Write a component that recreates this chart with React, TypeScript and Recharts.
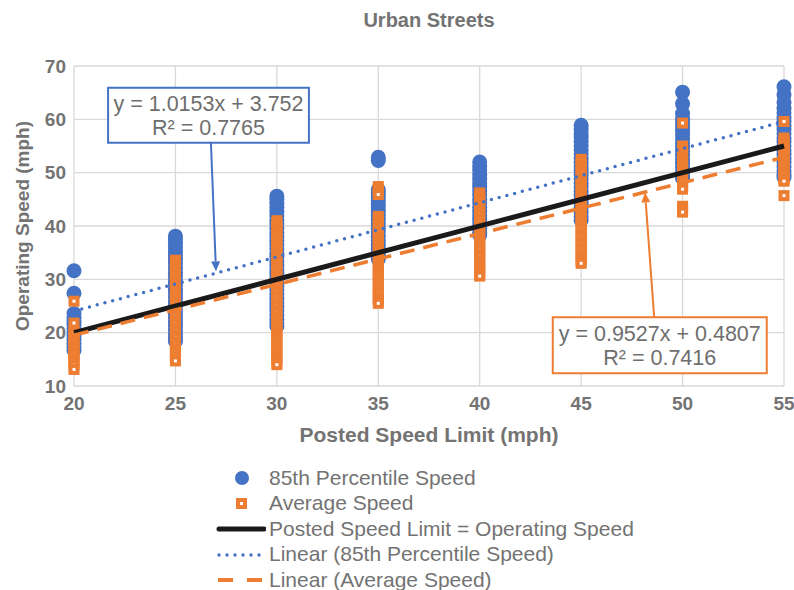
import {
  CartesianGrid,
  ReferenceArea,
  ReferenceLine,
  Scatter,
  ScatterChart,
  XAxis,
  YAxis,
} from "recharts";

const speedLimits = [20, 25, 30, 35, 40, 45, 50, 55];
const xTicks = [20, 25, 30, 35, 40, 45, 50, 55];
const yTicks = [10, 20, 30, 40, 50, 60, 70];

// 85th percentile speeds per posted limit
const p85At20 = [31.6, 27.4, 23.6, 22.9, 22.2, 21.5, 20.8, 20.1, 19.4, 18.7, 18.0, 17.3, 16.7];
const p85At25 = [38.1, 37.4, 36.7, 36.0, 35.2, 34.4, 33.7, 32.9, 32.1, 31.3, 30.6, 29.8, 29.0, 28.2, 27.5, 26.7, 25.9, 25.1, 24.4, 23.6, 22.8, 22.0, 21.3, 20.5, 19.7, 18.9, 18.4];
const p85At30 = [45.6, 45.0, 44.2, 43.5, 42.7, 41.9, 41.1, 40.4, 39.6, 38.8, 38.0, 37.3, 36.5, 35.7, 34.9, 34.2, 33.4, 32.6, 31.8, 31.1, 30.3, 29.5, 28.7, 28.0, 27.2, 26.4, 25.6, 24.9, 24.1, 23.3, 22.5, 21.8, 21.2];
const p85At35 = [52.9, 52.3, 46.8, 46.2, 45.5, 44.8, 44.1, 43.4, 42.7, 42.0, 41.2, 40.4, 39.6, 38.9, 38.1, 37.3, 36.5, 35.8, 35.0, 34.2, 33.8];
const p85At40 = [52.0, 51.2, 50.5, 49.7, 48.9, 48.1, 47.4, 46.6, 45.8, 45.0, 44.3, 43.5, 42.7, 41.9, 41.2, 40.4, 39.6, 38.8, 38.3];
const p85At45 = [58.9, 58.1, 57.3, 56.6, 55.8, 55.0, 54.2, 53.5, 52.7, 51.9, 51.1, 50.4, 49.6, 48.8, 48.0, 47.3, 46.5, 45.7, 44.9, 44.2, 43.4, 42.6, 41.8, 41.1];
const p85At50 = [65.1, 62.9, 61.1, 60.2, 59.4, 58.6, 57.9, 57.1, 56.3, 55.5, 54.8, 54.0, 53.2, 52.4, 51.7, 50.9, 50.1, 49.3, 48.9];
const p85At55 = [66.1, 64.6, 63.2, 62.0, 61.2, 60.4, 59.6, 58.9, 58.1, 57.3, 56.5, 55.8, 55.0, 54.2, 53.4, 52.7, 51.9, 51.1, 50.3, 49.6, 49.1];

// average speeds per posted limit
const avgAt20 = [25.9, 21.8, 20.3, 19.7, 19.0, 18.4, 17.7, 17.1, 16.4, 15.8, 15.1, 14.5, 13.9, 13.1];
const avgAt25 = [33.6, 33.0, 32.4, 31.8, 31.2, 30.6, 30.0, 29.4, 28.7, 28.1, 27.4, 26.8, 26.1, 25.5, 24.8, 24.2, 23.5, 22.9, 22.2, 21.6, 20.9, 20.3, 19.6, 19.0, 18.3, 17.7, 17.0, 16.4, 15.7, 15.1, 14.7];
const avgAt30 = [41.0, 40.5, 39.9, 39.3, 38.6, 38.0, 37.3, 36.7, 36.0, 35.4, 34.7, 34.1, 33.4, 32.8, 32.1, 31.5, 30.8, 30.2, 29.5, 28.9, 28.2, 27.6, 26.9, 26.3, 25.6, 25.0, 24.3, 23.7, 23.0, 22.4, 21.7, 21.1, 20.4, 19.8, 19.1, 18.5, 17.8, 17.2, 16.5, 15.9, 15.2, 14.6, 14.0];
const avgAt35 = [47.4, 46.9, 46.4, 45.9, 41.8, 41.2, 40.6, 40.0, 39.4, 38.8, 38.2, 37.6, 36.9, 36.3, 35.6, 35.0, 34.3, 33.7, 33.0, 32.4, 31.7, 31.1, 30.4, 29.8, 29.1, 28.5, 27.8, 27.2, 26.5, 26.1, 25.5];
const avgAt40 = [46.2, 45.6, 45.0, 44.4, 43.8, 43.2, 42.6, 42.0, 41.3, 40.7, 40.0, 39.4, 38.7, 38.1, 37.4, 36.8, 36.1, 35.5, 34.8, 34.2, 33.5, 32.9, 32.2, 31.6, 30.9, 30.6];
const avgAt45 = [52.5, 51.9, 51.3, 50.7, 50.1, 49.5, 48.9, 48.3, 47.6, 47.0, 46.3, 45.7, 45.0, 44.4, 43.7, 43.1, 42.4, 41.8, 41.1, 40.5, 39.8, 39.2, 38.5, 37.9, 37.2, 36.6, 35.9, 35.3, 34.6, 34.0, 33.4, 33.0];
const avgAt50 = [59.3, 55.0, 54.4, 53.8, 53.2, 52.6, 52.0, 51.4, 50.8, 50.2, 49.6, 49.0, 48.4, 47.7, 47.3, 46.9, 43.7, 43.1, 42.6];
const avgAt55 = [59.6, 56.5, 55.9, 55.3, 54.7, 54.1, 53.5, 52.9, 52.3, 51.6, 51.0, 50.3, 49.7, 49.0, 48.7, 48.4, 45.7];

const p85Columns = [p85At20, p85At25, p85At30, p85At35, p85At40, p85At45, p85At50, p85At55];
const avgColumns = [avgAt20, avgAt25, avgAt30, avgAt35, avgAt40, avgAt45, avgAt50, avgAt55];

// line endpoints
const equalityLine = [{ x: 20, y: 20 }, { x: 55, y: 55 }];
const p85Trend = [{ x: 20, y: 24.06 }, { x: 55, y: 59.59 }];
const avgTrend = [{ x: 20, y: 19.53 }, { x: 55, y: 52.88 }];

const toPoints = (cols: number[][]) =>
  cols.flatMap((vals, i) => vals.map((y) => ({ x: speedLimits[i], y })));

const p85Points = toPoints(p85Columns);
const avgPoints = toPoints(avgColumns);

const BLUE = "#4472C4";
const ORANGE = "#ED7D31";
const TEXT = "#737373";
const FONT = "'Liberation Sans', Arial, sans-serif";

const Dot = (p: any) => <circle cx={p.cx} cy={p.cy} r={7.5} fill={BLUE} />;
const Square = (p: any) => (
  <rect x={p.cx - 3.5} y={p.cy - 3.5} width={7} height={7} fill="#fff" stroke={ORANGE} strokeWidth={4} />
);
const NoMark = () => <g />;

const BoxText = ({ viewBox, lines }: any) => {
  const cx = viewBox.x + viewBox.width / 2;
  const cy = viewBox.y + viewBox.height / 2;
  return (
    <g fontFamily={FONT} fontSize={21.5} fill="#6e6e6e" textAnchor="middle">
      <text x={cx} y={cy - 4}>{lines[0]}</text>
      <text x={cx} y={cy + 20}>{lines[1]}</text>
    </g>
  );
};

const arrow = (color: string) => (p: any) => {
  const { x1, y1, x2, y2 } = p;
  const a = Math.atan2(y2 - y1, x2 - x1);
  const len = 10;
  const w = 4.5;
  const bx = x2 - len * Math.cos(a);
  const by = y2 - len * Math.sin(a);
  const nx = -Math.sin(a) * w;
  const ny = Math.cos(a) * w;
  return (
    <g>
      <line x1={x1} y1={y1} x2={bx} y2={by} stroke={color} strokeWidth={2} />
      <polygon points={`${x2},${y2} ${bx + nx},${by + ny} ${bx - nx},${by - ny}`} fill={color} />
    </g>
  );
};

const tick = { fill: TEXT, fontSize: 19, fontWeight: 700, fontFamily: FONT };

const legendRows = [
  { key: "p85", label: "85th Percentile Speed" },
  { key: "avg", label: "Average Speed" },
  { key: "eq", label: "Posted Speed Limit = Operating Speed" },
  { key: "lp85", label: "Linear (85th Percentile Speed)" },
  { key: "lavg", label: "Linear (Average Speed)" },
];

const LegendIcon = ({ k }: { k: string }) => (
  <svg width={50} height={25.5}>
    {k === "p85" && <circle cx={26} cy={13} r={7} fill={BLUE} />}
    {k === "avg" && <rect x={22} y={9} width={7} height={7} fill="#fff" stroke={ORANGE} strokeWidth={4} />}
    {k === "eq" && <line x1={3} y1={13} x2={48} y2={13} stroke="#1a1a1a" strokeWidth={5} strokeLinecap="round" />}
    {k === "lp85" && <line x1={3} y1={13} x2={48} y2={13} stroke={BLUE} strokeWidth={3.5} strokeDasharray="0 8" strokeLinecap="round" />}
    {k === "lavg" && <line x1={2} y1={13} x2={47} y2={13} stroke={ORANGE} strokeWidth={4} strokeDasharray="15 14" />}
  </svg>
);

export default function App() {
  return (
    <div style={{ position: "absolute", left: 0, top: 0, width: 794, height: 590, background: "#fff", fontFamily: FONT }}>
      <div style={{ position: "absolute", left: 0, width: 858, top: 9, textAlign: "center", fontSize: 20, fontWeight: 700, color: TEXT }}>
        Urban Streets
      </div>
      <ScatterChart width={794} height={590} margin={{ top: 66, right: 10, bottom: 164, left: 14 }}>
        <CartesianGrid stroke="#d9d9d9" strokeWidth={1.3} />
        <XAxis
          type="number"
          dataKey="x"
          domain={[20, 55]}
          ticks={xTicks}
          axisLine={false}
          tickLine={false}
          tick={tick}
          tickMargin={5}
          height={40}
          interval={0}
          label={{ value: "Posted Speed Limit (mph)", position: "bottom", offset: 1, style: { fill: TEXT, fontSize: 21, fontWeight: 700, fontFamily: FONT } }}
        />
        <YAxis
          type="number"
          dataKey="y"
          domain={[10, 70]}
          ticks={yTicks}
          axisLine={false}
          tickLine={false}
          tick={tick}
          width={60}
          interval={0}
          label={{ value: "Operating Speed (mph)", angle: -90, position: "insideLeft", offset: 8, style: { textAnchor: "middle", fill: TEXT, fontSize: 19, fontWeight: 700, fontFamily: FONT } }}
        />
        <Scatter name="85th Percentile Speed" data={p85Points} shape={Dot} isAnimationActive={false} />
        <Scatter name="Average Speed" data={avgPoints} shape={Square} isAnimationActive={false} />
        <Scatter
          name="Posted Speed Limit = Operating Speed"
          data={equalityLine}
          line={{ stroke: "#1a1a1a", strokeWidth: 5 }}
          fill="#1a1a1a"
          shape={NoMark}
          isAnimationActive={false}
        />
        <Scatter
          name="Linear (85th Percentile Speed)"
          data={p85Trend}
          line={{ stroke: BLUE, strokeWidth: 3.5, strokeDasharray: "0 8", strokeLinecap: "round" }}
          fill={BLUE}
          shape={NoMark}
          isAnimationActive={false}
        />
        <Scatter
          name="Linear (Average Speed)"
          data={avgTrend}
          line={{ stroke: ORANGE, strokeWidth: 3.5, strokeDasharray: "15 9" }}
          fill={ORANGE}
          shape={NoMark}
          isAnimationActive={false}
        />
        <ReferenceLine segment={[{ x: 26.75, y: 55.6 }, { x: 27.0, y: 31.5 }]} shape={arrow(BLUE)} />
        <ReferenceLine segment={[{ x: 48.6, y: 22.9 }, { x: 48.15, y: 46.3 }]} shape={arrow(ORANGE)} />
        <ReferenceArea
          x1={21.68}
          x2={31.58}
          y1={55.6}
          y2={65.9}
          fill="#fff"
          fillOpacity={1}
          stroke={BLUE}
          strokeWidth={2}
          label={<BoxText lines={["y = 1.0153x + 3.752", "R² = 0.7765"]} />}
        />
        <ReferenceArea
          x1={43.6}
          x2={54.15}
          y1={12.4}
          y2={22.9}
          fill="#fff"
          fillOpacity={1}
          stroke={ORANGE}
          strokeWidth={2}
          label={<BoxText lines={["y = 0.9527x + 0.4807", "R² = 0.7416"]} />}
        />
      </ScatterChart>
      <div style={{ position: "absolute", left: 216, top: 465, fontSize: 21, color: TEXT }}>
        {legendRows.map((r) => (
          <div key={r.key} style={{ display: "flex", alignItems: "center", height: 25.5 }}>
            <LegendIcon k={r.key} />
            <span style={{ marginLeft: 3, whiteSpace: "nowrap" }}>{r.label}</span>
          </div>
        ))}
      </div>
    </div>
  );
}
